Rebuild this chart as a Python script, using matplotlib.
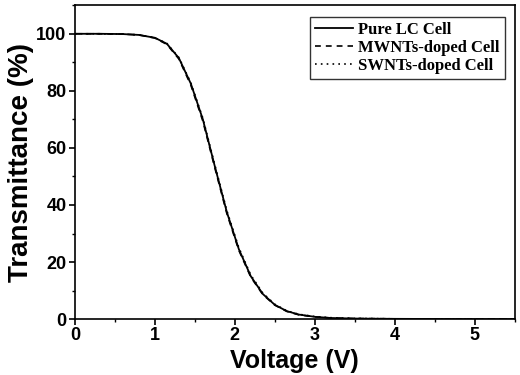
import matplotlib
matplotlib.use('Agg')
import matplotlib.pyplot as plt
from matplotlib.ticker import MultipleLocator

voltage = [0.0, 0.3, 0.6, 0.8, 1.0, 1.15, 1.3, 1.45, 1.6, 1.75, 1.9, 2.05, 2.2, 2.35, 2.5, 2.65, 2.8, 3.0, 3.2, 3.5, 4.0, 4.5, 5.0, 5.5]
pure_lc = [100.0, 100.0, 99.9, 99.6, 98.6, 96.5, 91.5, 82.5, 70.0, 53.5, 37.5, 24.5, 15.0, 8.8, 5.0, 2.8, 1.6, 0.8, 0.4, 0.2, 0.1, 0.05, 0.0, 0.0]
mwnts = [100.0, 100.0, 99.9, 99.6, 98.5, 96.3, 91.2, 82.0, 69.4, 53.0, 37.0, 24.1, 14.7, 8.6, 4.9, 2.7, 1.5, 0.8, 0.4, 0.2, 0.1, 0.05, 0.0, 0.0]
swnts = [100.0, 100.0, 99.9, 99.6, 98.6, 96.6, 91.7, 82.8, 70.4, 54.0, 38.0, 25.0, 15.4, 9.1, 5.2, 2.9, 1.7, 0.9, 0.5, 0.25, 0.1, 0.05, 0.0, 0.0]

fig = plt.figure(figsize=(5.2, 3.75), dpi=100)
ax = fig.add_axes([0.144, 0.149, 0.846, 0.837])

ax.plot(voltage, pure_lc, color='black', lw=1.3, ls='-', label='Pure LC Cell')
ax.plot(voltage, mwnts, color='black', lw=1.2, ls=(0, (3.5, 3)), label='MWNTs-doped Cell')
ax.plot(voltage, swnts, color='black', lw=1.2, ls=(0, (1, 2.5)), label='SWNTs-doped Cell')

ax.set_xlim(0, 5.5)
ax.set_ylim(0, 110)
ax.xaxis.set_major_locator(MultipleLocator(1))
ax.xaxis.set_minor_locator(MultipleLocator(0.5))
ax.yaxis.set_major_locator(MultipleLocator(20))
ax.yaxis.set_minor_locator(MultipleLocator(10))
ax.tick_params(which='major', direction='out', length=4, width=1.2, labelsize=13, pad=2)
ax.tick_params(which='minor', direction='out', length=2.5, width=1)
for lab in ax.get_xticklabels() + ax.get_yticklabels():
    lab.set_fontweight('bold')
    lab.set_family('Liberation Sans')
for sp in ax.spines.values():
    sp.set_linewidth(1.2)

ax.set_xlabel('Voltage (V)', fontsize=18, fontweight='bold', family='Liberation Sans', labelpad=3)
ax.set_ylabel('Transmittance (%)', fontsize=20, fontweight='bold', family='Liberation Sans', labelpad=2)

leg = ax.legend(loc='upper right', bbox_to_anchor=(0.977, 0.962), borderaxespad=0,
                fancybox=False, edgecolor='black',
                prop={'family': 'Liberation Serif', 'weight': 'bold', 'size': 12},
                handlelength=2.3, borderpad=0.3, labelspacing=0.1, handletextpad=0.3)
leg.get_frame().set_linewidth(1.0)

fig.savefig('out.png', dpi=100)
